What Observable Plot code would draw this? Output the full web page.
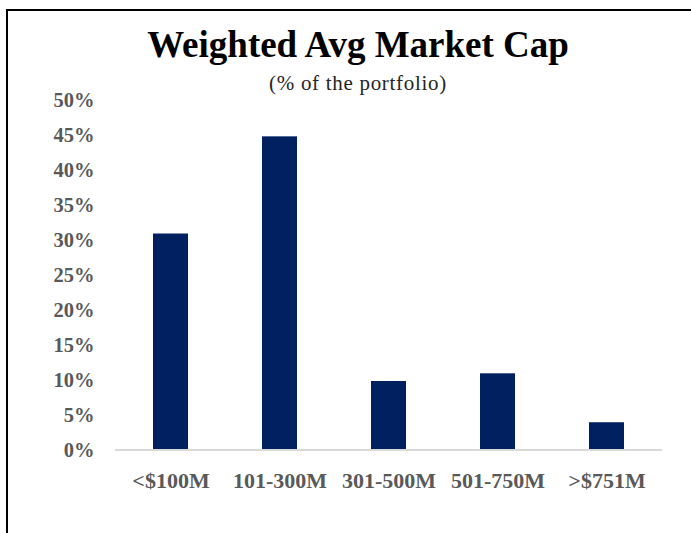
<!DOCTYPE html>
<html>
<head>
<meta charset="utf-8">
<script src="https://cdn.jsdelivr.net/npm/d3@7"></script>
<script src="https://cdn.jsdelivr.net/npm/@observablehq/plot@0.6"></script>
<style>
  html, body { margin: 0; padding: 0; background: #fff; }
  #wrap { position: relative; width: 691px; height: 533px; overflow: hidden; background: #fff; }
  #frame { position: absolute; left: 6px; top: 9px; width: 700px; height: 540px;
           border-top: 2px solid #000; border-left: 2px solid #000; box-sizing: border-box; }
  #title { position: absolute; left: 0; width: 716px; top: 25px; text-align: center;
           font-family: "Liberation Serif", serif; font-weight: bold; font-size: 37px; line-height: 40px; color: #000; }
  #subtitle { position: absolute; left: 0; width: 716px; top: 71px; text-align: center;
              font-family: "Liberation Serif", serif; font-size: 21px; letter-spacing: 0.7px; line-height: 24px; color: #262626; }
  #chart { position: absolute; left: 0; top: 0; }
</style>
</head>
<body>
<div id="wrap">
  <div id="chart"></div>
  <div id="frame"></div>
  <div id="title">Weighted Avg Market Cap</div>
  <div id="subtitle">(% of the portfolio)</div>
</div>
<script>
const categories = ["<$100M", "101-300M", "301-500M", "501-750M", ">$751M"];
const values = [30.9, 44.8, 9.8, 10.9, 3.9];
const yTicks = [0, 5, 10, 15, 20, 25, 30, 35, 40, 45, 50];

const data = categories.map((c, i) => ({category: c, value: values[i]}));

const chart = Plot.plot({
  width: 691,
  height: 533,
  marginTop: 100,
  marginBottom: 83.5,
  marginLeft: 115,
  marginRight: 29,
  style: {
    fontFamily: "'Liberation Serif', serif",
    fontWeight: "bold",
    color: "#595959",
    background: "transparent"
  },
  x: {
    domain: categories,
    paddingInner: 0.68,
    paddingOuter: 0.34
  },
  y: {
    domain: [0, 50]
  },
  marks: [
    Plot.axisX({tickSize: 0, tickPadding: 22, fontSize: 22, label: null}),
    Plot.axisY(yTicks, {tickSize: 0, tickPadding: 21, fontSize: 20.5, tickFormat: d => d + "%", label: null}),
    Plot.barY(data, {x: "category", y: "value", fill: "#002060"}),
    Plot.ruleY([0], {stroke: "#d9d9d9", strokeWidth: 2})
  ]
});
document.getElementById("chart").appendChild(chart);
</script>
</body>
</html>
